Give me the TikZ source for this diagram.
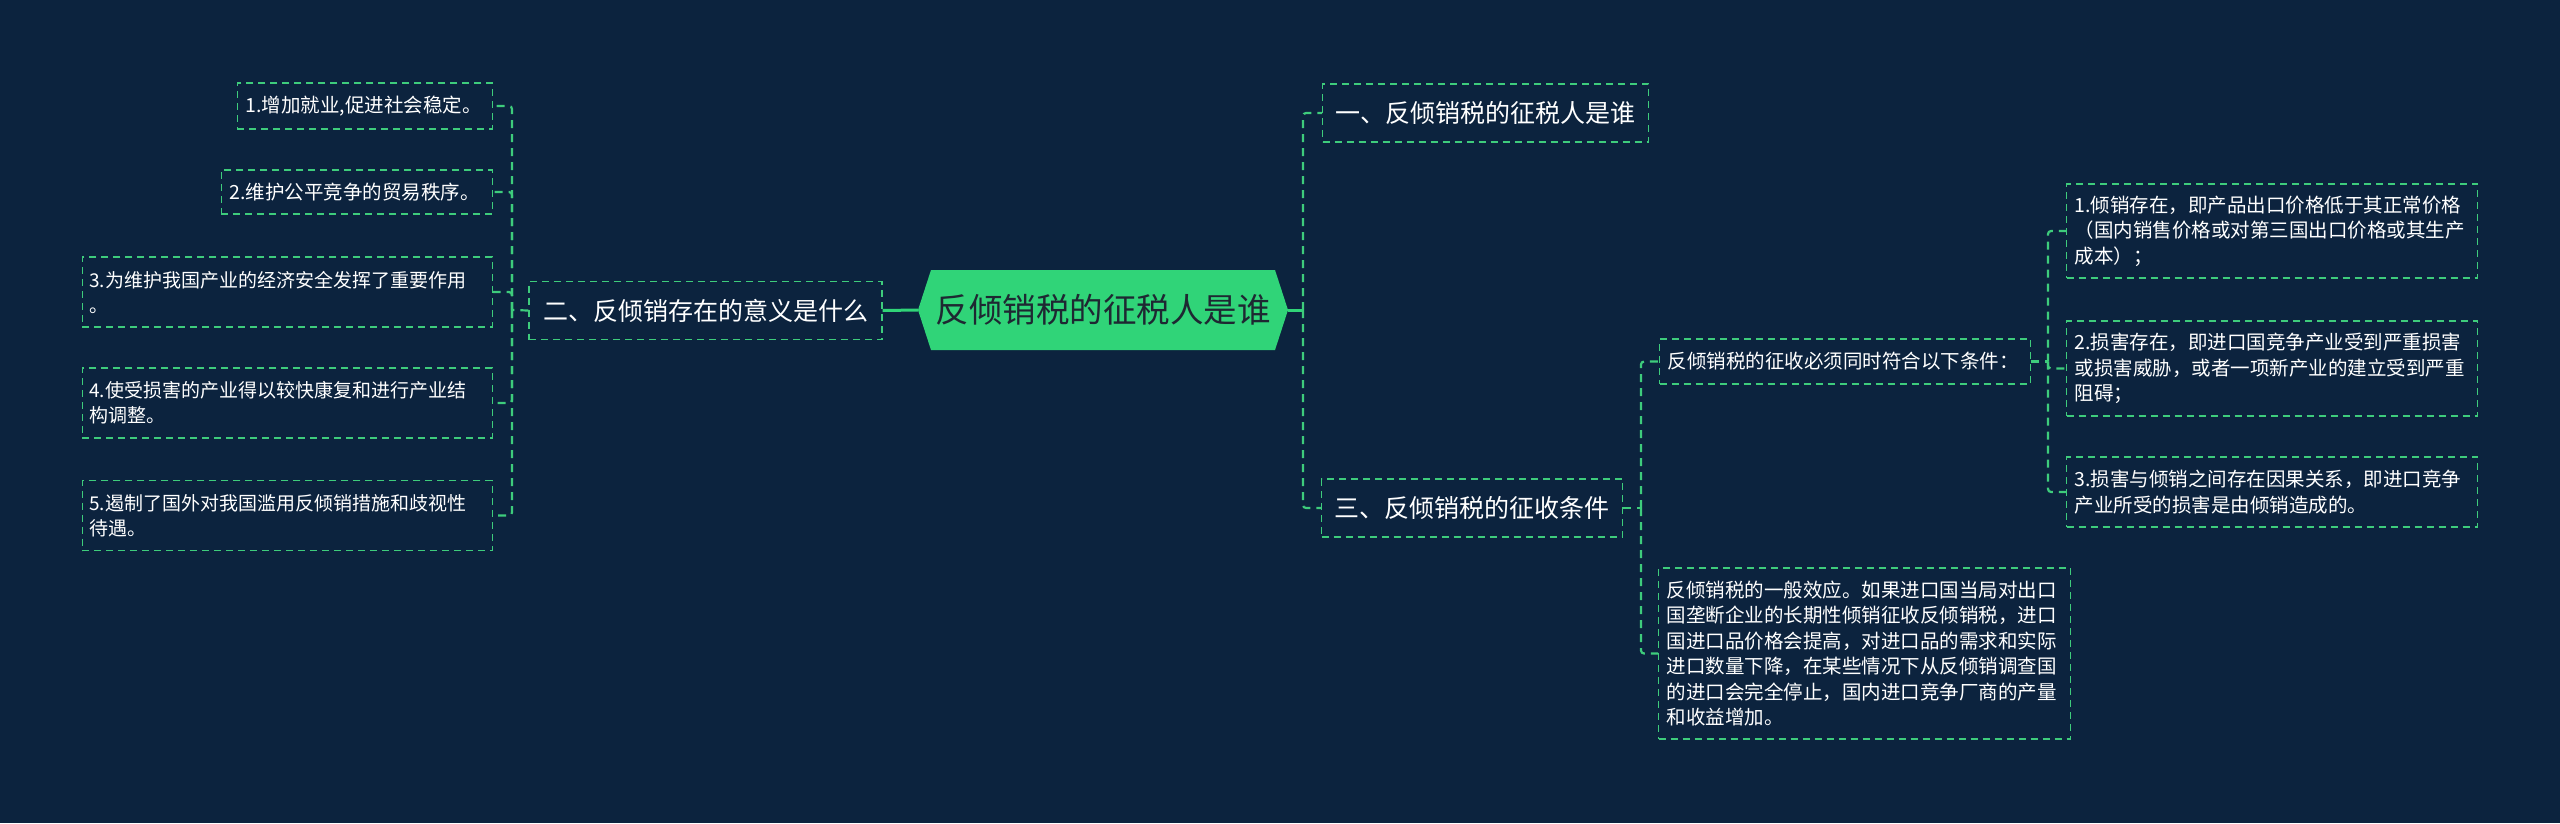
\documentclass[tikz,border=0pt]{standalone}
\usepackage{fontspec}
\setmainfont{Noto Sans CJK SC}
\definecolor{bgnavy}{RGB}{12,35,62}
\definecolor{dashgreen}{RGB}{62,204,124}
\definecolor{rootgreen}{RGB}{48,212,120}
\definecolor{roottext}{RGB}{30,40,50}
\tikzset{
  leaf/.style={draw=dashgreen,line width=1.3pt,dash pattern=on 7pt off 5pt,text=white,
    font=\fontsize{19.5}{25.5}\selectfont,align=left,inner xsep=8pt,inner ysep=3pt},
  wideleaf/.style={leaf,font=\fontsize{19}{25}\selectfont,inner xsep=7pt},
  branch/.style={draw=dashgreen,line width=1.3pt,dash pattern=on 7pt off 5pt,text=white,
    font=\fontsize{25}{30}\selectfont,minimum height=58pt,inner xsep=12pt},
  twig/.style={dashgreen,line width=2.2pt,dash pattern=on 8pt off 6pt,rounded corners=3pt},
  trunk/.style={rootgreen,line width=3pt},
  rootnode/.style={minimum width=370pt,minimum height=80pt,inner sep=0pt,text=roottext,
    font=\fontsize{33.5}{38}\selectfont,
    path picture={\fill[rootgreen] (path picture bounding box.west)
      -- ([xshift=13pt]path picture bounding box.north west)
      -- ([xshift=-13pt]path picture bounding box.north east)
      -- (path picture bounding box.east)
      -- ([xshift=-13pt]path picture bounding box.south east)
      -- ([xshift=13pt]path picture bounding box.south west) -- cycle;}}
}
\begin{document}
\begin{tikzpicture}[x=1pt,y=-1pt,line cap=butt]
\useasboundingbox (0,0) rectangle (2560,823);
\fill[bgnavy] (0,0) rectangle (2560,823);
% centre
\node[rootnode] (root) at (1103,310) {反倾销税的征税人是谁};
% left side
\node[branch,minimum width=353pt] (yiyi) at (705.5,310.5) {二、反倾销存在的意义是什么};
\node[leaf,anchor=east,text width=239pt,minimum height=46pt] (yi1) at (493,106) {1.增加就业,促进社会稳定。};
\node[leaf,anchor=east,text width=255pt,minimum height=44pt] (yi2) at (493,192) {2.维护公平竞争的贸易秩序。};
\node[wideleaf,anchor=east,text width=396pt,minimum height=70pt] (yi3) at (493,292) {3.为维护我国产业的经济安全发挥了重要作用\\。};
\node[wideleaf,anchor=east,text width=396pt,minimum height=70pt] (yi4) at (493,403) {4.使受损害的产业得以较快康复和进行产业结\\构调整。};
\node[wideleaf,anchor=east,text width=396pt,minimum height=70pt] (yi5) at (493,515.5) {5.遏制了国外对我国滥用反倾销措施和歧视性\\待遇。};
% right side
\node[branch,minimum width=326pt,anchor=west] (who) at (1322,113) {一、反倾销税的征税人是谁};
\node[branch,minimum width=301pt,anchor=west] (cond) at (1321,508) {三、反倾销税的征收条件};
\node[leaf,anchor=west,text width=355pt,minimum height=45pt] (must) at (1659,361.5) {反倾销税的征收必须同时符合以下条件：};
\node[leaf,anchor=west,text width=396pt,minimum height=171pt] (effect) at (1658,653.5) {反倾销税的一般效应。如果进口国当局对出口\\国垄断企业的长期性倾销征收反倾销税，进口\\国进口品价格会提高，对进口品的需求和实际\\进口数量下降，在某些情况下从反倾销调查国\\的进口会完全停止，国内进口竞争厂商的产量\\和收益增加。};
\node[leaf,anchor=west,text width=395pt,minimum height=94pt] (must1) at (2066,231) {1.倾销存在，即产品出口价格低于其正常价格\\（国内销售价格或对第三国出口价格或其生产\\成本）；};
\node[leaf,anchor=west,text width=395pt,minimum height=95pt] (must2) at (2066,368.5) {2.损害存在，即进口国竞争产业受到严重损害\\或损害威胁，或者一项新产业的建立受到严重\\阻碍；};
\node[leaf,anchor=west,text width=395pt,minimum height=70pt] (must3) at (2066,492) {3.损害与倾销之间存在因果关系，即进口竞争\\产业所受的损害是由倾销造成的。};
% joints
\coordinate (ljoint) at (512,310);
\coordinate (rjoint) at (1303,310);
\coordinate (cjoint) at (1641,508);
\coordinate (mjoint) at (2048,361.5);
% connectors
\draw[trunk] (root.west) -- (yiyi.east);
\draw[trunk] (root.east) -- (rjoint);
\draw[twig] (yiyi.west) -- (ljoint);
\foreach \n in {yi1,yi2,yi3,yi4,yi5} \draw[twig] (ljoint) |- (\n.east);
\draw[twig] (rjoint) |- (who.west);
\draw[twig] (rjoint) |- (cond.west);
\draw[twig] (cond.east) -- (cjoint);
\draw[twig] (cjoint) |- (must.west);
\draw[twig] (cjoint) |- (effect.west);
\draw[twig] (must.east) -- (mjoint);
\foreach \n in {must1,must2,must3} \draw[twig] (mjoint) |- (\n.west);
\end{tikzpicture}
\end{document}
